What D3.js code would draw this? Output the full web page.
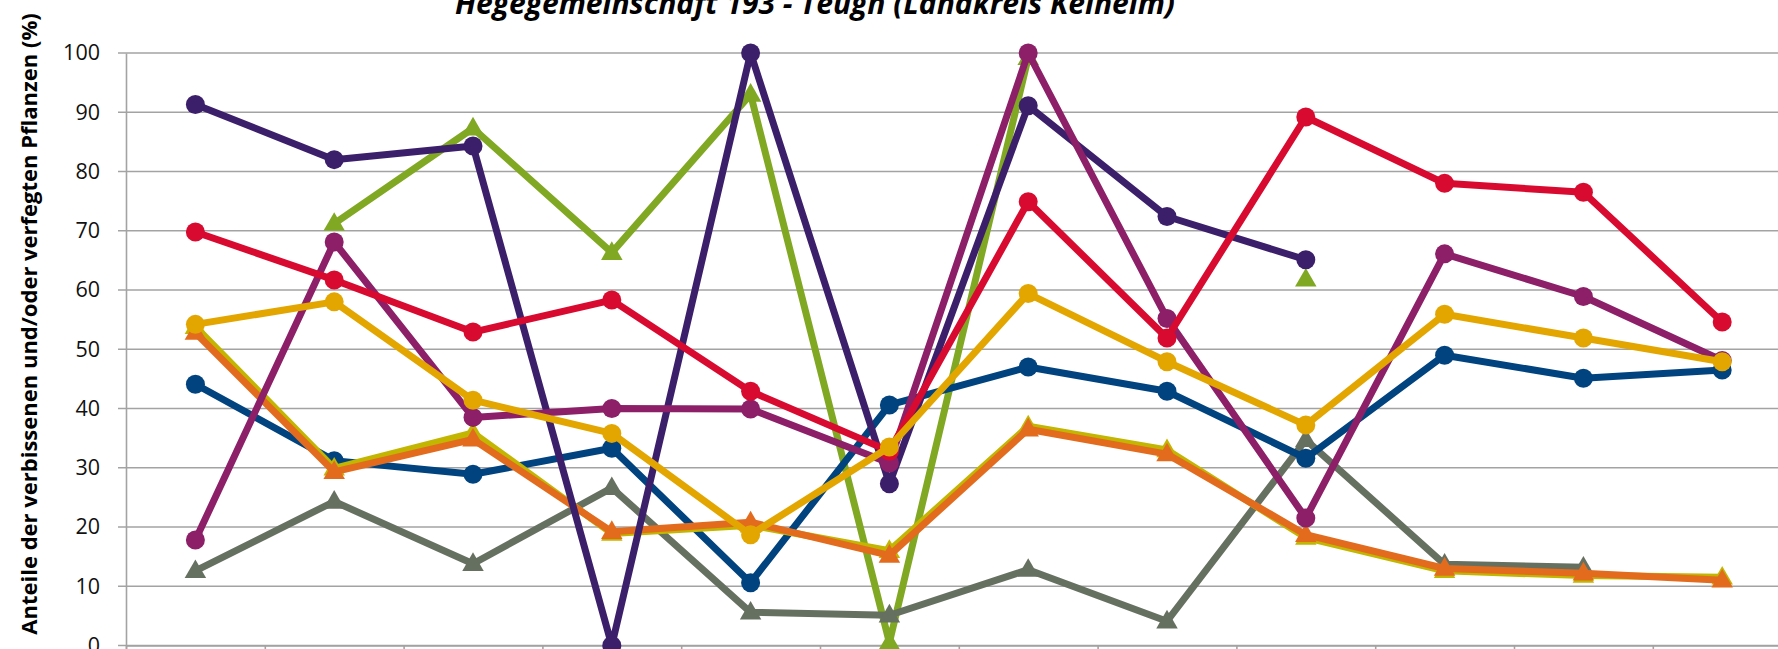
<!DOCTYPE html>
<html>
<head>
<meta charset="utf-8">
<script src="https://cdn.jsdelivr.net/npm/d3@7/dist/d3.min.js"></script>
<style>
  html, body { margin: 0; padding: 0; background: #fff; }
  svg { display: block; }
  text { font-family: "Open Sans", "DejaVu Sans", sans-serif; }
</style>
</head>
<body>
<div id="chart"></div>
<script>
// Aufnahmeflächen (Beschriftung im Ausschnitt nicht sichtbar)
const categories = ['1', '2', '3', '4', '5', '6', '7', '8', '9', '10', '11', '12'];
const yTicks = [0, 10, 20, 30, 40, 50, 60, 70, 80, 90, 100];

const titleText = 'Hegegemeinschaft 193 - Teugn (Landkreis Kelheim)';
const yTitle = 'Anteile der verbissenen und/oder verfegten Pflanzen (%)';

// Werte je Baumart (null = kein Wert)
const greenVals   = [null, 71.2, 87.3, 66.3, 93.0, 0.5, 99.2, null, 61.8, null, null, null];
const grayVals    = [12.6, 24.3, 13.8, 26.6, 5.6, 5.1, 12.8, 4.1, 34.7, 13.7, 13.2, null];
const blueVals    = [44.1, 31.2, 28.9, 33.3, 10.6, 40.6, 47.0, 42.9, 31.6, 49.0, 45.1, 46.5];
const oliveVals   = [53.8, 29.9, 35.9, 18.9, 20.3, 16.0, 37.0, 33.0, 18.2, 12.6, 11.8, 11.5];
const orangeVals  = [52.8, 29.3, 34.8, 19.2, 20.8, 15.2, 36.5, 32.3, 18.7, 13.0, 12.2, 11.0];
const purpleVals  = [91.3, 82.0, 84.3, 0.0, 100.0, 27.3, 91.1, 72.4, 65.1, null, null, null];
const magentaVals = [17.8, 68.1, 38.5, 40.0, 39.9, 30.8, 100.0, 55.2, 21.5, 66.1, 58.9, 48.1];
const redVals     = [69.8, 61.7, 52.9, 58.3, 42.9, 32.8, 74.9, 51.9, 89.2, 78.0, 76.5, 54.6];
const goldVals    = [54.2, 58.0, 41.4, 35.8, 18.7, 33.5, 59.4, 47.9, 37.2, 55.9, 51.9, 47.9];

const series = [
    { values: greenVals,   color: '#80a823', marker: 'triangle' },
    { values: grayVals,    color: '#667060', marker: 'triangle' },
    { values: blueVals,    color: '#00437f', marker: 'circle' },
    { values: oliveVals,   color: '#c2b600', marker: 'triangle' },
    { values: orangeVals,  color: '#e36b1e', marker: 'triangle' },
    { values: purpleVals,  color: '#3c1f6b', marker: 'circle' },
    { values: magentaVals, color: '#8c1f68', marker: 'circle' },
    { values: redVals,     color: '#d90a2f', marker: 'circle' },
    { values: goldVals,    color: '#e3a600', marker: 'circle' }
];

const width = 1778;
const height = 649;
const plot = { left: 126, top: 53, bottom: 645.5, step: 138.8 };

const svg = d3.select('#chart')
    .append('svg')
    .attr('width', width)
    .attr('height', height);

const x = d3.scaleBand()
    .domain(categories)
    .range([plot.left, plot.left + plot.step * categories.length]);

const xEdge = d3.scaleLinear()
    .domain([0, categories.length])
    .range([plot.left, plot.left + plot.step * categories.length]);

const y = d3.scaleLinear()
    .domain([0, 100])
    .range([plot.bottom, plot.top]);

// Gitternetz
svg.append('g')
    .selectAll('line')
    .data(yTicks)
    .join('line')
    .attr('x1', plot.left - 8)
    .attr('x2', width)
    .attr('y1', d => y(d))
    .attr('y2', d => y(d))
    .attr('stroke', '#a3a3a3')
    .attr('stroke-width', 1.6);

// y-Achse
const yAxis = svg.append('g')
    .attr('transform', `translate(${plot.left},0)`)
    .call(d3.axisLeft(y).tickValues(yTicks).tickSize(0).tickPadding(26));
yAxis.select('.domain').attr('stroke', '#a3a3a3').attr('stroke-width', 1.6);
yAxis.selectAll('text')
    .attr('font-size', 21.5)
    .attr('fill', '#111')
    .style('font-family', '"Open Sans", sans-serif');

// x-Achse
const xAxis = svg.append('g')
    .attr('transform', `translate(0,${plot.bottom})`)
    .call(d3.axisBottom(xEdge).tickValues(d3.range(categories.length + 1)).tickSize(9).tickFormat(''));
xAxis.select('.domain').attr('stroke', '#a3a3a3').attr('stroke-width', 1.6);
xAxis.selectAll('.tick line').attr('stroke', '#a3a3a3').attr('stroke-width', 1.6);

// Linien und Marker
const cx = i => x(categories[i]) + x.bandwidth() / 2;
const line = d3.line()
    .defined(d => d != null)
    .x((d, i) => cx(i))
    .y(d => y(d));

const triangle = d3.symbol().type(d3.symbolTriangle).size(200);

series.forEach(s => {
    const g = svg.append('g');
    g.append('path')
        .attr('d', line(s.values))
        .attr('fill', 'none')
        .attr('stroke', s.color)
        .attr('stroke-width', 7)
        .attr('stroke-linejoin', 'round');

    const pts = s.values.map((v, i) => ({ v, i })).filter(d => d.v != null);
    if (s.marker === 'circle') {
        g.selectAll('circle')
            .data(pts)
            .join('circle')
            .attr('cx', d => cx(d.i))
            .attr('cy', d => y(d.v))
            .attr('r', 9.5)
            .attr('fill', s.color);
    } else {
        g.selectAll('path.m')
            .data(pts)
            .join('path')
            .attr('class', 'm')
            .attr('d', triangle)
            .attr('transform', d => `translate(${cx(d.i)},${y(d.v) + 1})`)
            .attr('fill', s.color);
    }
});

// Titel
svg.append('text')
    .attr('x', 815)
    .attr('y', 14)
    .attr('text-anchor', 'middle')
    .attr('font-size', 30)
    .attr('font-weight', 'bold')
    .attr('font-style', 'italic')
    .attr('fill', '#000')
    .text(titleText);

svg.append('text')
    .attr('transform', 'translate(37,324) rotate(-90)')
    .attr('text-anchor', 'middle')
    .attr('font-size', 22)
    .attr('font-weight', 'bold')
    .attr('fill', '#000')
    .text(yTitle);
</script>
</body>
</html>
